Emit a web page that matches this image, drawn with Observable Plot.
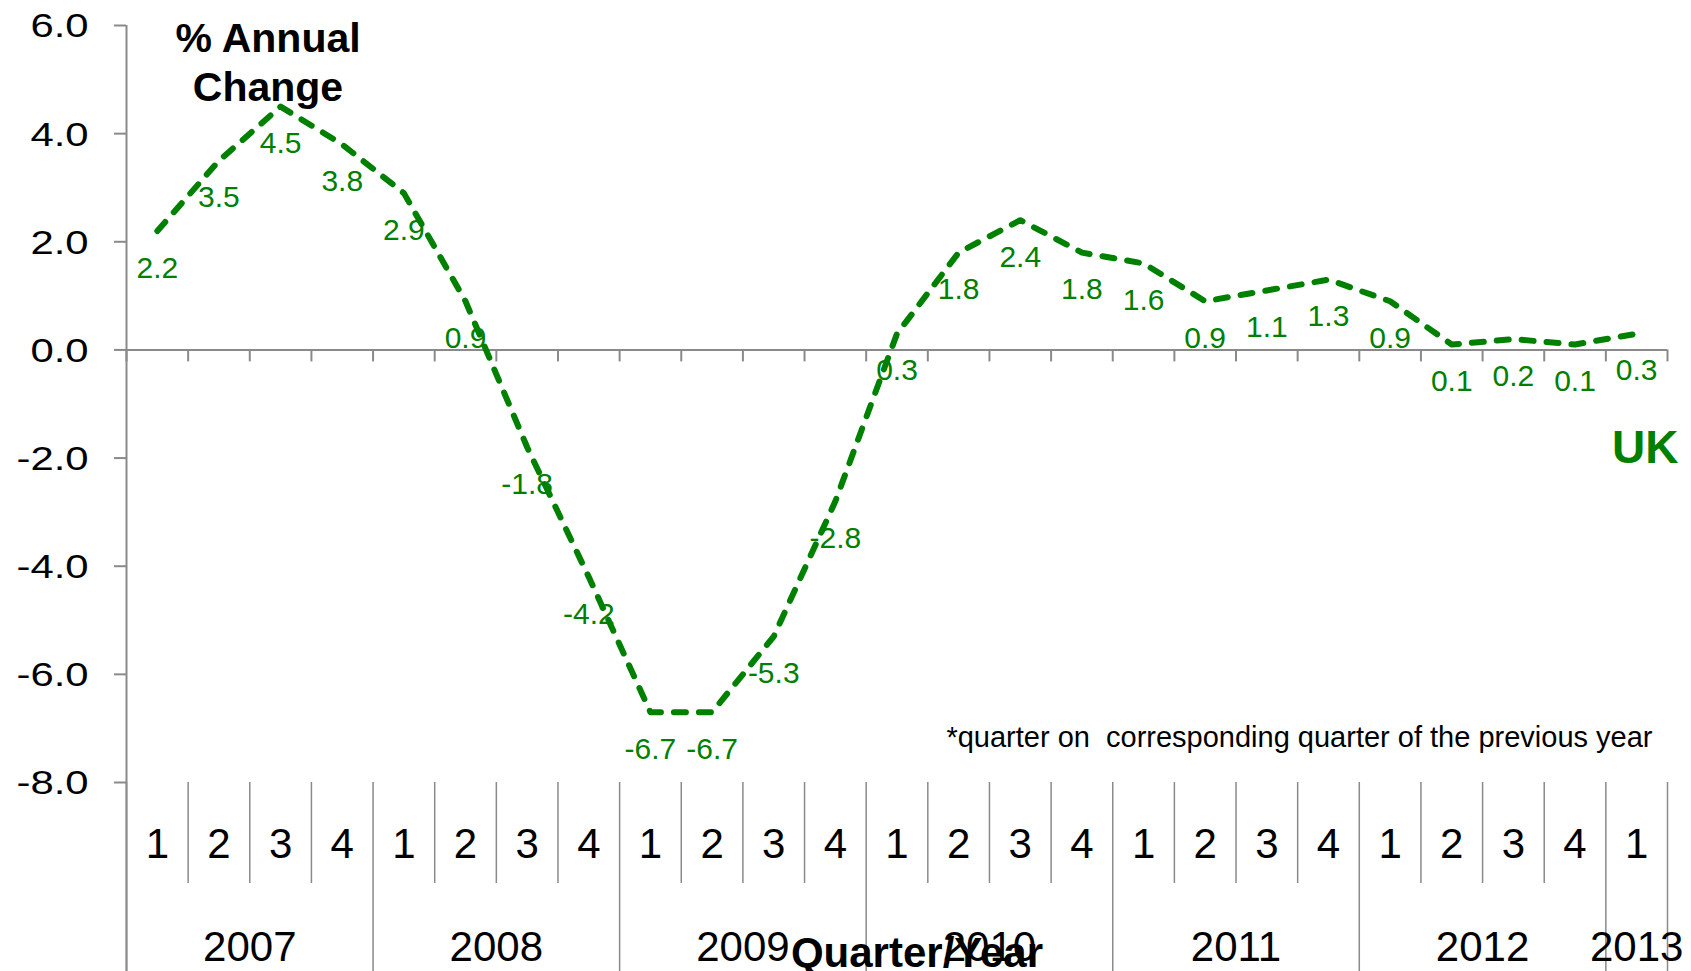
<!DOCTYPE html>
<html><head><meta charset="utf-8">
<script src="https://cdn.jsdelivr.net/npm/d3@7"></script>
<script src="https://cdn.jsdelivr.net/npm/@observablehq/plot@0.6"></script>
<style>
html,body{margin:0;padding:0;background:#fff;overflow:hidden;}
svg text{white-space:pre;}
</style>
</head><body><div id="chart"></div>
<script>
// ---- data ----
const quarterLabels = ["1","2","3","4","1","2","3","4","1","2","3","4","1","2","3","4","1","2","3","4","1","2","3","4","1"];
const quarterYears = ["2007","2007","2007","2007","2008","2008","2008","2008","2009","2009","2009","2009",
  "2010","2010","2010","2010","2011","2011","2011","2011","2012","2012","2012","2012","2013"];
const yearLabels = ["2007","2008","2009","2010","2011","2012","2013"];
const values = [2.2,3.5,4.5,3.8,2.9,0.9,-1.8,-4.2,-6.7,-6.7,-5.3,-2.8,0.3,1.8,2.4,1.8,1.6,0.9,1.1,1.3,0.9,0.1,0.2,0.1,0.3];
const yTicks = [-8,-6,-4,-2,0,2,4,6];
const seriesName = "UK";
const yTitle = "% Annual\nChange";
const xTitle = "Quarter/Year";
const note = "*quarter on  corresponding quarter of the previous year";

// ---- derived tables ----
const rows = values.map((v, i) => ({pos: i + 0.5, q: quarterLabels[i], year: quarterYears[i], v}));
const years = yearLabels.map(y => {
  const p = rows.filter(r => r.year === y).map(r => r.pos);
  return {year: y, pos: (d3.min(p) - 0.5 + d3.max(p) + 0.5) / 2};
});
const bounds = d3.range(values.length + 1);
const isYearBound = b => b === 0 || b === values.length || quarterYears[b] !== quarterYears[b - 1];
const yearBounds = bounds.filter(isYearBound);
const quarterBounds = bounds.filter(b => !isYearBound(b));

const green = "#008000", gray = "#8a8a8a";
const yMin = d3.min(yTicks), yMax = d3.max(yTicks);
const mLeft = 126, labelDx = -38;

const chart = Plot.plot({
  width: 1691, height: 971,
  marginLeft: mLeft, marginRight: 24, marginTop: 25, marginBottom: 189,
  style: {fontFamily: "'Liberation Sans', Arial, Helvetica, sans-serif", background: "#fff", color: "#000", fontSize: "32px"},
  x: {type: "linear", domain: [0, values.length], axis: null},
  y: {domain: [yMin, yMax], axis: null},
  marks: [
    // y tick labels (first text mark; widened after render)
    Plot.text(yTicks, {y: d => d, text: d => d.toFixed(1), frameAnchor: "left", textAnchor: "end",
      dx: labelDx, dy: 1, fontSize: 34, fill: "#000"}),
    // y axis line (runs down through the category table)
    Plot.ruleX([0], {x: d => d, y1: yMax, y2: yMin, insetBottom: -189, stroke: gray, strokeWidth: 2}),
    // y ticks
    Plot.ruleY(yTicks, {y: d => d, x1: 0, x2: 0, insetLeft: -12, stroke: gray, strokeWidth: 2}),
    // x axis line at zero
    Plot.ruleY([0], {y: d => d, x1: 0, x2: values.length, stroke: gray, strokeWidth: 2}),
    // x ticks at zero line
    Plot.ruleX(bounds, {x: d => d, y1: 0, y2: 0, insetBottom: -12, stroke: gray, strokeWidth: 2}),
    // category table separators
    Plot.ruleX(quarterBounds, {x: d => d, y1: yMin, y2: yMin, insetBottom: -101, stroke: gray, strokeWidth: 1.5}),
    Plot.ruleX(yearBounds, {x: d => d, y1: yMin, y2: yMin, insetBottom: -189, stroke: gray, strokeWidth: 1.5}),
    // series line
    Plot.line(rows, {x: "pos", y: "v", stroke: green, strokeWidth: 6, strokeDasharray: "12,13",
      strokeLinecap: "round", strokeLinejoin: "round"}),
    // data labels
    Plot.text(rows, {x: "pos", y: "v", text: d => d.v.toFixed(1), dy: 37, fontSize: 30, fill: green}),
    // quarter labels
    Plot.text(rows, {x: "pos", text: "q", frameAnchor: "bottom", dy: 75, fontSize: 42, fill: "#000"}),
    // year labels
    Plot.text(years, {x: "pos", text: "year", frameAnchor: "bottom", dy: 178, fontSize: 42, fill: "#000"}),
    // x title
    Plot.text([xTitle], {text: d => d, frameAnchor: "bottom", dx: 20, dy: 184, fontSize: 42, fontWeight: "bold", fill: "#000"}),
    // y title
    Plot.text([yTitle], {text: d => d, frameAnchor: "top-left", textAnchor: "middle", lineAnchor: "top",
      dx: 141.5, dy: -9, lineHeight: 1.21, fontSize: 41, fontWeight: "bold", fill: "#000"}),
    // series name
    Plot.text([seriesName], {text: d => d, frameAnchor: "right", textAnchor: "end", dx: 11, dy: 44,
      fontSize: 46, fontWeight: "bold", fill: green}),
    // footnote
    Plot.text([note], {text: d => d, frameAnchor: "bottom-right", textAnchor: "end", dx: -15, dy: -36,
      fontSize: 29, fill: "#000"})
  ]
});

// y tick labels in the reference are horizontally wider: stretch the group about the labels' right edge
const tickGroup = d3.select(chart).selectAll('g[aria-label="text"]').nodes()[0];
if (tickGroup) {
  const orig = tickGroup.getAttribute("transform") || "";
  const ax = mLeft + labelDx;
  tickGroup.setAttribute("transform", `translate(${ax},0) scale(1.23,1) translate(${-ax},0) ${orig}`);
}

document.getElementById("chart").appendChild(chart);
</script>
</body></html>
